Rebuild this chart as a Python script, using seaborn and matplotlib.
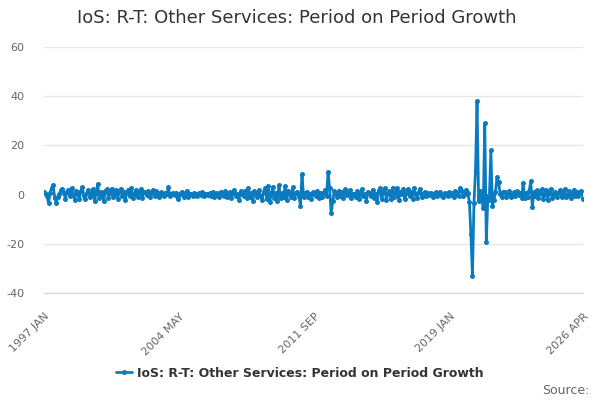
import numpy as np
import pandas as pd
import matplotlib
matplotlib.use('Agg')
import matplotlib.pyplot as plt
import seaborn as sns

# 月度数据: 1997 JAN - 2026 APR
start_month = '1997-01-01'
v1997 = [1.2, 0.4, -0.6, -3.5, 0.8, 2.5, 3.8, -1.2, -3.4, -0.8, 0.2, 1.8]
v1998 = [2.4, 0.5, -1.6, 1.2, 1.8, -0.5, 2.6, -0.2, -2.1, 1.4, 0.3, -1.8]
v1999 = [1.6, 2.9, -0.4, -1.9, 0.7, 1.9, -0.8, 0.4, 2.2, -2.4, 0.6, 4.4]
v2000 = [-1.5, 1.1, 0.3, -2.5, 1.6, 2.1, -1.2, 0.8, 2.4, -1.0, 0.5, 1.9]
v2001 = [-1.8, 1.4, 2.3, -0.6, 1.2, -2.2, 0.9, 1.7, -0.4, 2.6, -1.3, 0.4]
v2002 = [1.9, -0.8, 0.6, 2.2, -1.5, 0.9, 1.1, -0.3, 1.6, -0.9, 0.7, 2.0]
v2003 = [-0.6, 1.3, 0.2, -0.8, 0.9, 0.4, -0.5, 0.6, 0.1, 2.9, -0.7, 0.3]
v2004 = [0.8, -0.2, 0.5, -1.6, -0.3, 0.6, 1.2, -0.8, 0.2, 1.5, -1.1, 0.4]
v2005 = [0.3, -0.4, 0.8, 0.2, -0.6, 0.5, -0.2, 0.9, -0.7, 0.4, 0.1, -0.3]
v2006 = [0.6, -0.5, 1.2, -1.0, 0.4, 0.7, -0.8, 1.1, 0.3, -0.6, 1.4, -0.9]
v2007 = [0.5, 1.0, -1.4, 0.8, 2.0, -0.6, 0.3, -2.2, 1.3, 0.2, -0.4, 1.6]
v2008 = [-1.2, 2.8, -0.9, 0.6, -2.4, 1.5, 0.3, -1.1, 1.8, -0.5, -2.0, 0.9]
v2009 = [2.6, -1.8, 3.6, -2.9, 0.4, 3.2, -1.5, 0.8, -2.6, 3.8, -1.2, 0.5]
v2010 = [-0.8, 3.4, -2.2, 1.6, 0.2, -0.9, 2.9, -1.4, 0.6, 1.2, -0.4, -4.5]
v2011 = [8.4, -1.0, 0.6, 1.1, -0.8, 0.4, -1.6, 0.9, 0.2, -0.5, 1.3, -1.2]
v2012 = [0.8, -1.1, 0.5, 1.9, -0.6, 9.2, 2.5, -7.3, -2.8, 1.4, 0.6, -0.9]
v2013 = [1.6, -0.4, 0.9, -1.2, 2.1, -0.3, 0.7, 1.8, -1.5, 0.4, 0.2, -0.8]
v2014 = [1.3, -1.9, 0.6, 2.2, -0.7, 0.3, -2.4, 1.1, 0.8, -0.6, 2.0, -1.4]
v2015 = [0.4, -3.2, 1.7, 2.5, -1.8, 0.9, 2.6, -2.1, 0.5, 1.4, -1.6, 2.8]
v2016 = [-0.9, 0.6, 2.7, -2.3, 1.2, 0.3, 2.4, -1.9, 0.8, 2.2, -0.6, 1.0]
v2017 = [-1.7, 2.5, 0.4, -1.3, 0.9, 2.3, -0.8, 0.2, 1.1, -0.5, 0.6, -0.3]
v2018 = [0.7, -1.0, 0.4, 0.9, -0.6, 0.3, 1.2, -0.4, -0.9, 0.8, 0.1, -0.7]
v2019 = [0.9, -0.2, 0.5, -0.8, 1.3, 0.2, -0.6, 2.7, 1.6, -0.4, 0.3, 2.0]
v2020 = [0.6, -3.0, -16.2, -33.0, -3.6, 10.0, 38.0, -2.5, 1.5, -1.0, -5.6, 29.0]
v2021 = [-19.4, -0.5, -2.0, 18.0, -4.5, -2.0, 1.0, 7.0, 5.0, 0.3, -1.0, 1.2]
v2022 = [1.2, -0.8, 0.6, 1.5, -1.1, 0.4, 0.9, -0.5, 1.3, -0.3, 0.8, -1.4]
v2023 = [4.8, -1.2, 0.5, -0.8, 1.6, 5.4, -5.2, 0.9, -0.6, 1.8, -1.3, 0.7]
v2024 = [2.1, -1.6, 0.4, 1.9, -2.0, 0.8, 2.4, -1.5, 0.3, 1.2, -0.9, 0.5]
v2025 = [1.7, -1.1, 0.6, 2.2, -0.8, -0.3, 1.4, -1.2, 0.7, 2.0, -0.6, 1.1]
v2026 = [-0.4, 0.9, 1.6, -1.6]

values = (v1997 + v1998 + v1999 + v2000 + v2001 + v2002 + v2003 + v2004 + v2005
          + v2006 + v2007 + v2008 + v2009 + v2010 + v2011 + v2012 + v2013 + v2014
          + v2015 + v2016 + v2017 + v2018 + v2019 + v2020 + v2021 + v2022 + v2023
          + v2024 + v2025 + v2026)
series_name = 'IoS: R-T: Other Services: Period on Period Growth'
y_ticks = [-40, -20, 0, 20, 40, 60]

dates = pd.date_range(start_month, periods=len(values), freq='MS')
df = pd.DataFrame({'date': dates, 'value': values})

sns.set_style('white')
plt.rcParams['font.family'] = ['DejaVu Sans']

fig = plt.figure(figsize=(6, 4), dpi=100)
ax = fig.add_axes([44 / 600, 1 - 293 / 400, (583 - 44) / 600, (293 - 47) / 400])

sns.lineplot(data=df, x='date', y='value', ax=ax, color='#0b7bc0', lw=2,
             marker='o', markersize=3.6, markeredgewidth=0, label=series_name)

ax.set_ylim(-40, 60)
ax.set_xlim(dates[0], dates[-1])
ax.set_yticks(y_ticks)
ax.set_yticklabels([str(t) for t in y_ticks], color='#666666', fontsize=8)
ax.tick_params(axis='y', length=0, pad=14)
ax.yaxis.grid(True, color='#e6e6e6', lw=1)
ax.set_axisbelow(True)

# x 轴刻度: 每 22 个月一个刻度, 每 88 个月一个标签
tick_idx = list(range(0, len(dates) - 1, 22)) + [len(dates) - 1]
label_idx = [0, 88, 176, 264, len(dates) - 1]
ax.set_xticks([dates[i] for i in tick_idx])
ax.set_xticklabels([dates[i].strftime('%Y %b').upper() if i in label_idx else ''
                    for i in tick_idx],
                   rotation=45, ha='right', va='top', rotation_mode='anchor',
                   color='#666666', fontsize=8)
ax.tick_params(axis='x', length=10, color='#ccd6eb', width=1, pad=3)

for side in ['top', 'right', 'left']:
    ax.spines[side].set_visible(False)
ax.spines['bottom'].set_color('#ccd6eb')
ax.set_xlabel('')
ax.set_ylabel('')

ax.legend_.remove()
handles, labels = ax.get_legend_handles_labels()
fig.legend(handles, labels, loc='center', bbox_to_anchor=(0.5, 0.067), frameon=False,
           handlelength=1.3, handletextpad=0.4,
           prop={'weight': 'bold', 'size': 9}, labelcolor='#333333')

fig.text(0.495, 0.955, series_name, ha='center', va='center', fontsize=13, color='#333333')
fig.text(0.982, 0.025, 'Source:', ha='right', va='center', fontsize=9, color='#666666')

fig.savefig('out.png', dpi=100)
